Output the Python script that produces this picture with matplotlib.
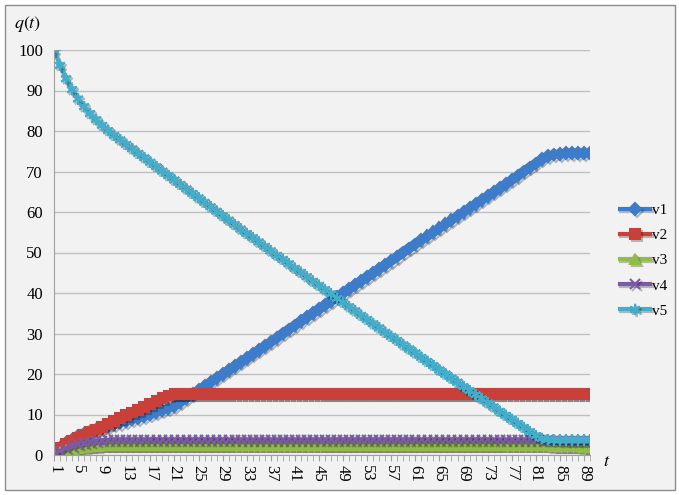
import numpy as np
import matplotlib.pyplot as plt
import matplotlib.patheffects as pe
from matplotlib.patches import Rectangle

# time steps 1..90
t = np.arange(1, 91)

v1 = ([0.0, 1.8, 2.9, 3.8, 4.6, 5.2, 5.7, 6.2, 6.7, 7.2, 7.6, 8.0, 8.4, 8.8,
       9.2, 9.6, 10.0, 10.5, 11.0, 11.5, 12.0]
      + [13.0, 14.0, 15.0, 16.0, 17.0, 18.0, 19.0, 20.0, 21.0, 22.0, 23.0,
         24.0, 25.0, 26.0, 27.0, 28.0, 29.0, 30.0, 31.0, 32.0, 33.0, 34.0,
         35.0, 36.0, 37.0, 38.0, 39.0, 40.0, 41.0, 42.0, 43.0, 44.0, 45.0,
         46.0, 47.0, 48.0, 49.0, 50.0, 51.0, 52.0, 53.0, 54.0, 55.0, 56.0,
         57.0, 58.0, 59.0, 60.0, 61.0, 62.0, 63.0, 64.0, 65.0, 66.0, 67.0,
         68.0, 69.0, 70.0, 71.0, 72.0, 73.0]
      + [73.8, 74.2, 74.4, 74.5, 74.5, 74.5, 74.5, 74.5])
v2 = ([0.3, 1.8, 2.7, 3.5, 4.2, 4.9, 5.6, 6.3, 7.0, 7.7, 8.4, 9.1, 9.8, 10.5,
       11.2, 11.9, 12.6, 13.3, 14.0, 14.7]
      + [15.0] * 70)
v3 = ([0.0, 0.6, 1.1, 1.5, 1.8, 2.0, 2.2, 2.3, 2.4, 2.5]
      + [2.5] * 72
      + [2.4, 2.3, 2.2, 2.2, 2.1, 2.1, 2.0, 2.0])
v4 = ([0.0, 1.0, 1.7, 2.3, 2.7, 3.0, 3.3, 3.5, 3.6, 3.7]
      + [3.8] * 72
      + [3.7, 3.6, 3.6, 3.5, 3.5, 3.5, 3.5, 3.5])
v5 = ([100.0, 96.2, 92.9, 90.2, 87.9, 86.0, 84.3, 82.8, 81.4, 80.1,
       78.9, 77.8, 76.7, 75.6, 74.5, 73.4, 72.3, 71.2, 70.1, 69.0,
       67.9, 66.8, 65.7, 64.6, 63.5, 62.4, 61.3, 60.2, 59.1, 58.0,
       56.9, 55.8, 54.7, 53.7, 52.6, 51.5, 50.4, 49.3, 48.3, 47.2,
       46.1, 45.1, 44.0, 42.9, 41.9, 40.8, 39.8, 38.7, 37.7, 36.6,
       35.6, 34.5, 33.5, 32.4, 31.4, 30.3, 29.3, 28.3, 27.2, 26.2,
       25.2, 24.1, 23.1, 22.1, 21.0, 20.0, 19.0, 18.0, 16.9, 15.9,
       14.9, 13.9, 12.9, 11.9, 10.8, 9.8, 8.8, 7.8, 6.8, 5.8,
       4.8, 4.1]
      + [3.8, 3.7, 3.7, 3.7, 3.7, 3.7, 3.7, 3.7])

series = ['v1', 'v2', 'v3', 'v4', 'v5']
colors = ['#3D7CC9', '#C9403A', '#92BC4A', '#7B5AA6', '#42AECB']
markers = ['D', 's', '^', 'x', (6, 2, 0)]
sizes = [6, 7, 7, 7, 8]

plt.rcParams['font.family'] = ['Liberation Serif', 'DejaVu Serif']

fig = plt.figure(figsize=(6.79, 4.95), dpi=100)
fig.patch.set_facecolor('white')
fig.patches.append(Rectangle((5 / 679, 5 / 495), 670 / 679, 485 / 495,
                             transform=fig.transFigure, facecolor='#F2F2F2',
                             edgecolor='#8C8C8C', linewidth=1, zorder=-10))

ax = fig.add_axes([54 / 679, 40 / 495, 536 / 679, 405 / 495])
ax.set_facecolor('none')

shadow = [pe.SimpleLineShadow(offset=(1.2, -1.5), alpha=0.25, shadow_color='black'),
          pe.Normal()]
for name, vals, c, m, s in zip(series, [v1, v2, v3, v4, v5], colors, markers, sizes):
    ax.plot(t, vals, color=c, lw=3, marker=m, markersize=s,
            markeredgecolor=c, markerfacecolor=c, markeredgewidth=1.5,
            label=name, path_effects=shadow)

ax.set_xlim(1, 90)
ax.set_ylim(0, 100)
ax.set_yticks(np.arange(0, 101, 10))
ax.set_xticks(np.arange(1, 91, 4))
ax.set_xticks(np.arange(1, 91, 1), minor=True)
ax.tick_params(axis='x', which='both', direction='out', length=4, color='#A0A0A0',
               labelrotation=270, labelsize=12, pad=3)
ax.tick_params(axis='y', length=0, labelsize=12, pad=8)
ax.yaxis.grid(True, color='#BFBFBF', lw=1)
ax.set_axisbelow(True)
for side in ['top', 'right']:
    ax.spines[side].set_visible(False)
ax.spines['left'].set_color('#A0A0A0')
ax.spines['bottom'].set_color('#A0A0A0')

fig.text(28 / 679, 1 - 24 / 495, '$q(t)$', ha='center', va='center', fontsize=13,
         math_fontfamily='stix')
fig.text(607 / 679, 1 - 462 / 495, '$t$', ha='center', va='center', fontsize=13,
         math_fontfamily='stix')

ax.legend(loc='center left', bbox_to_anchor=(1.03, 0.48), frameon=False,
          fontsize=11, handlelength=2.0, handletextpad=0.1, labelspacing=0.75)

fig.savefig('out.png', dpi=100, facecolor=fig.get_facecolor())
